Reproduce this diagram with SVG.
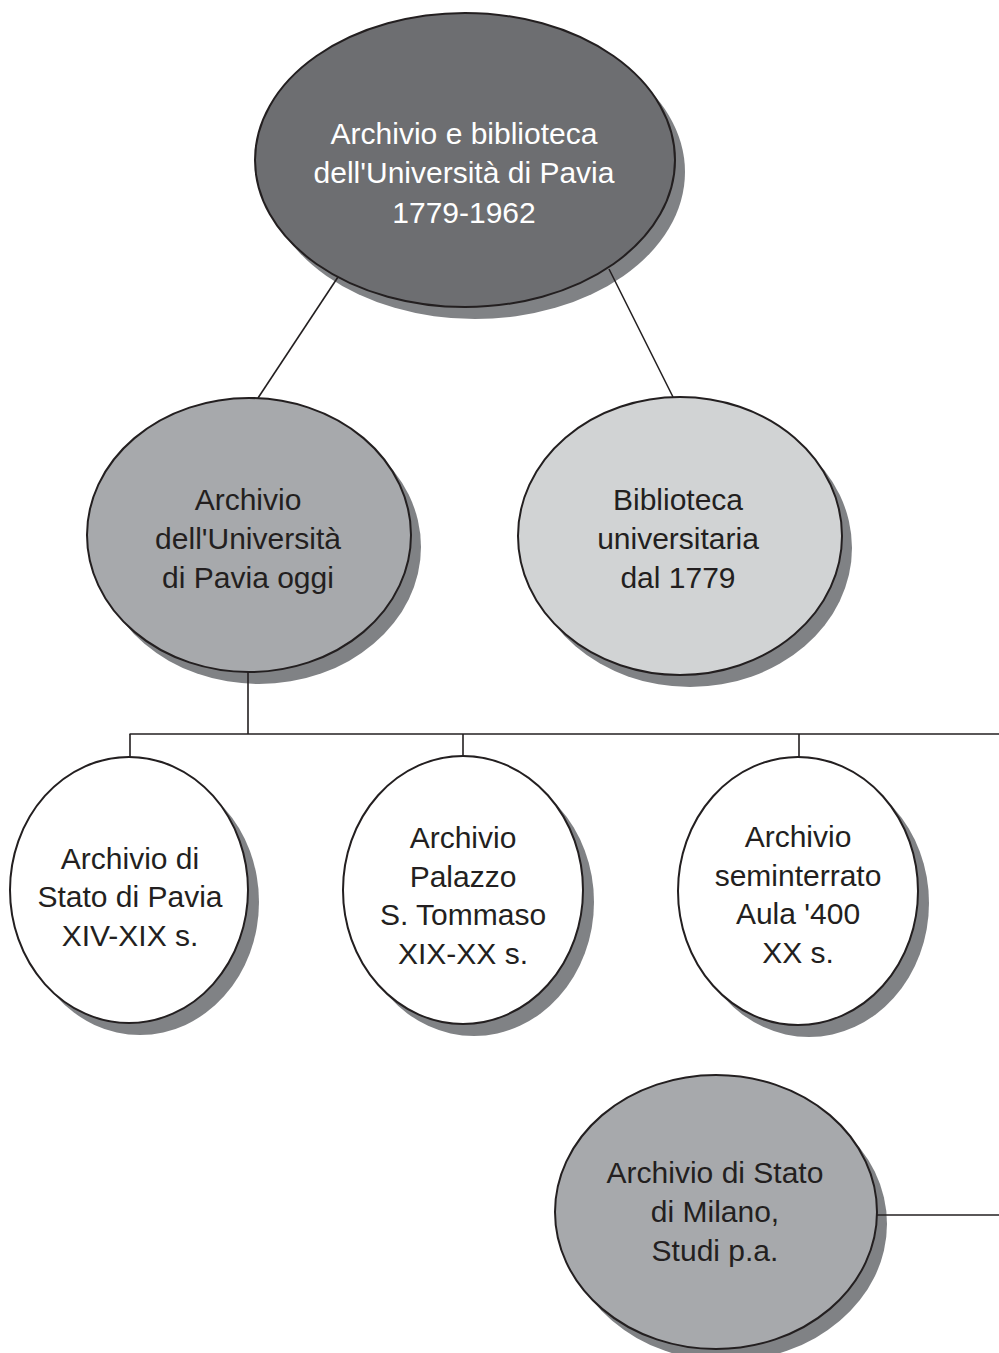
<svg xmlns="http://www.w3.org/2000/svg" width="999" height="1353" viewBox="0 0 999 1353" font-family="'Liberation Sans', sans-serif">
<style>
.sh{fill:#808285}
.el{stroke:#231f20;stroke-width:2}
.dark{fill:#6d6e71}
.mid{fill:#a7a9ac}
.light{fill:#d1d3d4}
.white{fill:#ffffff}
text{font-family:'Liberation Sans',sans-serif;font-size:30px;text-anchor:middle;fill:#231f20}
text.inv{fill:#ffffff}
.cn{stroke:#231f20;stroke-width:1.6;fill:none}
</style>
<rect width="999" height="1353" fill="#ffffff"/>
<g id="node-root">
<ellipse class="sh" cx="475" cy="172" rx="210" ry="147"/>
<ellipse class="el dark" cx="465" cy="160" rx="210" ry="147"/>
<text class="inv" x="464" y="144">Archivio e biblioteca</text>
<text class="inv" x="464" y="183">dell'Università di Pavia</text>
<text class="inv" x="464" y="223">1779-1962</text>
</g>
<g id="node-archivio">
<ellipse class="sh" cx="259" cy="547" rx="162" ry="137"/>
<ellipse class="el mid" cx="249" cy="535" rx="162" ry="137"/>
<text x="248" y="510">Archivio</text>
<text x="248" y="549">dell'Università</text>
<text x="248" y="588">di Pavia oggi</text>
</g>
<g id="node-biblioteca">
<ellipse class="sh" cx="690" cy="548" rx="162" ry="139"/>
<ellipse class="el light" cx="680" cy="536" rx="162" ry="139"/>
<text x="678" y="510">Biblioteca</text>
<text x="678" y="549">universitaria</text>
<text x="678" y="588">dal 1779</text>
</g>
<g id="node-pavia">
<ellipse class="sh" cx="140" cy="902" rx="119" ry="133"/>
<ellipse class="el white" cx="129" cy="890" rx="119" ry="133"/>
<text x="130" y="869">Archivio di</text>
<text x="130" y="907">Stato di Pavia</text>
<text x="130" y="946">XIV-XIX s.</text>
</g>
<g id="node-tommaso">
<ellipse class="sh" cx="474" cy="902" rx="120" ry="134"/>
<ellipse class="el white" cx="463" cy="890" rx="120" ry="134"/>
<text x="463" y="848">Archivio</text>
<text x="463" y="887">Palazzo</text>
<text x="463" y="925">S. Tommaso</text>
<text x="463" y="964">XIX-XX s.</text>
</g>
<g id="node-seminterrato">
<ellipse class="sh" cx="809" cy="903" rx="120" ry="134"/>
<ellipse class="el white" cx="798" cy="891" rx="120" ry="134"/>
<text x="798" y="847">Archivio</text>
<text x="798" y="886">seminterrato</text>
<text x="798" y="924">Aula '400</text>
<text x="798" y="963">XX s.</text>
</g>
<g id="node-milano">
<ellipse class="sh" cx="726" cy="1224" rx="161" ry="137"/>
<ellipse class="el mid" cx="716" cy="1212" rx="161" ry="137"/>
<text x="715" y="1183">Archivio di Stato</text>
<text x="715" y="1222">di Milano,</text>
<text x="715" y="1261">Studi p.a.</text>
</g>
<g id="connectors">
<line class="cn" x1="338" y1="277" x2="258" y2="398"/>
<line class="cn" x1="609" y1="269" x2="673" y2="397"/>
<line class="cn" x1="248" y1="672" x2="248" y2="734"/>
<line class="cn" x1="129.5" y1="734" x2="999" y2="734"/>
<line class="cn" x1="130" y1="734" x2="130" y2="757"/>
<line class="cn" x1="463" y1="734" x2="463" y2="756"/>
<line class="cn" x1="799" y1="734" x2="799" y2="757"/>
<line class="cn" x1="877" y1="1215" x2="999" y2="1215"/>
</g>
</svg>
